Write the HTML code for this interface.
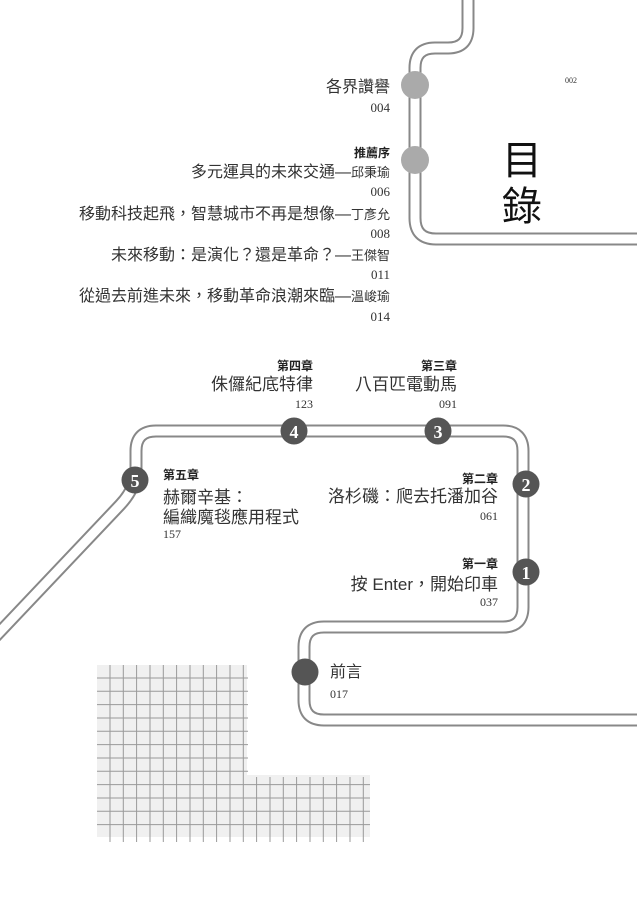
<!DOCTYPE html>
<html><head><meta charset="utf-8"><style>
body{margin:0;width:637px;height:900px;background:#fff;position:relative;overflow:hidden;font-family:"Liberation Sans","Noto Sans CJK TC",sans-serif;color:#222}
.t{position:absolute;white-space:nowrap;line-height:1}
.r{text-align:right}
.n{font-family:"Liberation Serif",serif;font-size:12px;color:#333}
.b{font-weight:bold;font-size:12px}
.m{font-size:16px;color:#333}
.s{font-size:13px;color:#333}
</style></head><body>
<svg width="637" height="900" style="position:absolute;left:0;top:0">
<g fill="#f0f0f0"><rect x="97" y="665" width="150" height="172"/><rect x="247" y="775" width="123" height="62"/></g>
<g stroke="#999" stroke-width="1">
<path d="M110,665V842M123.3,665V842M136.6,665V842M150,665V842M163.3,665V842M176.6,665V842M190,665V842M203.3,665V842M216.6,665V842M230,665V842M243.3,665V842"/>
<path d="M256.6,777V842M270,777V842M283.3,777V842M296.6,777V842M310,777V842M323.3,777V842M336.6,777V842M350,777V842M363.3,777V842"/>
<path d="M97,678H248M97,691.3H248M97,704.6H248M97,718H248M97,731.3H248M97,744.6H248M97,758H248M97,771.3H248"/>
<path d="M97,784.6H370M97,798H370M97,811.3H370M97,824.6H370"/>
</g>
<g fill="none" stroke-linejoin="round">
<path d="M468,0V28Q468,48 448,48H435Q415,48 415,68V218Q415,239 436,239H640" stroke="#888" stroke-width="13"/>
<path d="M468,0V28Q468,48 448,48H435Q415,48 415,68V218Q415,239 436,239H640" stroke="#fff" stroke-width="9"/>
<path d="M-5,637L120,505Q136,488 136,470V451Q136,431 156,431H503Q523,431 523,451V607Q523,627 503,627H324Q304,627 304,647V700Q304,720 324,720H640" stroke="#888" stroke-width="13"/>
<path d="M-5,637L120,505Q136,488 136,470V451Q136,431 156,431H503Q523,431 523,451V607Q523,627 503,627H324Q304,627 304,647V700Q304,720 324,720H640" stroke="#fff" stroke-width="9"/>
</g>
<circle cx="415" cy="85" r="14" fill="#aaa"/>
<circle cx="415" cy="160" r="14" fill="#aaa"/>
<g fill="#555"><circle cx="294" cy="431" r="13.5"/><circle cx="438" cy="431" r="13.5"/><circle cx="135" cy="480" r="13.5"/><circle cx="526" cy="484" r="13.5"/><circle cx="526" cy="572" r="13.5"/><circle cx="305" cy="672" r="13.5"/></g>
<g fill="#fff" font-family="Liberation Serif,serif" font-weight="bold" font-size="18" text-anchor="middle">
<text x="294" y="438">4</text><text x="438" y="438">3</text><text x="135" y="487">5</text><text x="526" y="491">2</text><text x="526" y="579">1</text></g>
</svg>
<div class="t m r" style="right:247px;top:80px">各界讚譽</div>
<div class="t n r" style="right:247px;top:101px;font-size:13px">004</div>
<div class="t b r" style="right:247px;top:147px">推薦序</div>
<div class="t m r" style="right:247px;top:165px">多元運具的未來交通—<span class="s">邱秉瑜</span></div>
<div class="t n r" style="right:247px;top:185px;font-size:13px">006</div>
<div class="t m r" style="right:247px;top:207px">移動科技起飛，智慧城市不再是想像—<span class="s">丁彥允</span></div>
<div class="t n r" style="right:247px;top:227px;font-size:13px">008</div>
<div class="t m r" style="right:247px;top:248px">未來移動：是演化？還是革命？—<span class="s">王傑智</span></div>
<div class="t n r" style="right:247px;top:268px;font-size:13px">011</div>
<div class="t m r" style="right:247px;top:289px">從過去前進未來，移動革命浪潮來臨—<span class="s">溫峻瑜</span></div>
<div class="t n r" style="right:247px;top:310px;font-size:13px">014</div>
<div class="t" style="left:502px;top:138px;font-size:40px;line-height:46px;color:#111">目<br>錄</div>
<div class="t n" style="left:565px;top:77px;font-size:8px">002</div>
<div class="t b r" style="right:324px;top:360px">第四章</div>
<div class="t m r" style="right:324px;top:376px;font-size:17px">侏儸紀底特律</div>
<div class="t n r" style="right:324px;top:398px">123</div>
<div class="t b r" style="right:180px;top:360px">第三章</div>
<div class="t m r" style="right:180px;top:376px;font-size:17px">八百匹電動馬</div>
<div class="t n r" style="right:180px;top:398px">091</div>
<div class="t b" style="left:163px;top:469px">第五章</div>
<div class="t m" style="left:163px;top:488px;font-size:17px;line-height:20px">赫爾辛基：<br>編織魔毯應用程式</div>
<div class="t n" style="left:163px;top:528px">157</div>
<div class="t b r" style="right:139px;top:473px">第二章</div>
<div class="t m r" style="right:139px;top:488px;font-size:17px">洛杉磯：爬去托潘加谷</div>
<div class="t n r" style="right:139px;top:510px">061</div>
<div class="t b r" style="right:139px;top:558px">第一章</div>
<div class="t m r" style="right:139px;top:576px;font-size:17px">按 Enter，開始印車</div>
<div class="t n r" style="right:139px;top:596px">037</div>
<div class="t m" style="left:330px;top:665px">前言</div>
<div class="t n" style="left:330px;top:688px">017</div>
</body></html>
